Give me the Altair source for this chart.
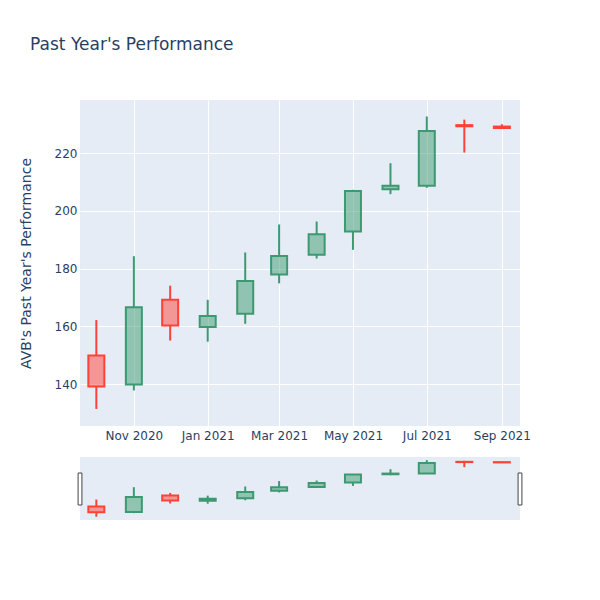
import altair as alt
import pandas as pd

months = ["2020-10-01", "2020-11-01", "2020-12-01", "2021-01-01", "2021-02-01", "2021-03-01",
          "2021-04-01", "2021-05-01", "2021-06-01", "2021-07-01", "2021-08-01", "2021-09-01"]
opens = [149.9, 139.9, 169.2, 159.8, 164.4, 178.0, 184.8, 192.9, 207.5, 208.7, 229.7, 229.2]
highs = [162.2, 184.3, 174.1, 169.2, 185.6, 195.3, 196.3, 207.3, 216.5, 232.7, 231.6, 230.0]
lows = [131.4, 137.8, 155.1, 154.7, 160.9, 174.9, 183.5, 186.5, 205.8, 208.0, 220.2, 228.7]
closes = [139.2, 166.6, 160.3, 163.6, 175.7, 184.4, 191.9, 206.9, 208.7, 227.7, 229.3, 228.7]

x_range = ["2020-09-17T12:00:00", "2021-09-16T00:00:00"]
y_range = [125.5, 238.4]
y_ticks = [140, 160, 180, 200, 220]
x_ticks = [(2020, 11), (2021, 1), (2021, 3), (2021, 5), (2021, 7), (2021, 9)]

INC = "#3D9970"
DEC = "#FF4136"
TXT = "#2a3f5f"
BG = "#E5ECF6"
FONT = "DejaVu Sans"

df = pd.DataFrame({
    "date": [m + "T00:00:00" for m in months],
    "open": opens, "high": highs, "low": lows, "close": closes,
})
df["dir"] = ["inc" if c >= o else "dec" for o, c in zip(opens, closes)]
df["btop"] = df[["open", "close"]].max(axis=1)
df["bbot"] = df[["open", "close"]].min(axis=1)

handles = pd.DataFrame({"date": x_range})

color = alt.Color("dir:N", scale=alt.Scale(domain=["inc", "dec"], range=[INC, DEC]), legend=None)
xscale = alt.Scale(domain=x_range, padding=0)
yscale = alt.Scale(domain=y_range, zero=False, nice=False, padding=0)

x_main = alt.X("date:T", scale=xscale, title=None,
               axis=alt.Axis(values=[alt.DateTime(year=y, month=m, date=1) for y, m in x_ticks],
                             format="%b %Y", labelFlush=False, labelOverlap=False,
                             grid=True, gridColor="white", gridWidth=1,
                             labelPadding=4, domain=False, ticks=False))
y_main = alt.Y("low:Q", scale=yscale, title="AVB's Past Year's Performance",
               axis=alt.Axis(values=y_ticks, grid=True, gridColor="white", gridWidth=1,
                             domain=False, ticks=False, labelPadding=3, titlePadding=21,
                             titleFontSize=14, titleFontWeight="normal", titleColor=TXT,
                             titleFont=FONT))


def candles(xenc, yenc):
    base = alt.Chart(df)
    lo = base.mark_rule(strokeWidth=2).encode(x=xenc, y=yenc, y2="bbot:Q", color=color)
    hi = base.mark_rule(strokeWidth=2).encode(x="date:T", y="btop:Q", y2="high:Q", color=color)
    body = base.mark_bar(size=16, strokeWidth=2, fillOpacity=0.5).encode(
        x="date:T", y="open:Q", y2="close:Q", color=color, stroke=color)
    return [lo, hi, body]


main = alt.layer(*candles(x_main, y_main)).properties(width=440, height=326)

x_s = alt.X("date:T", scale=xscale, axis=None)
y_s = alt.Y("low:Q", scale=yscale, axis=None)
hand = alt.Chart(handles).mark_point(
    shape="M-0.12,-1H0.12V1H-0.12Z", size=1024, filled=True, fill="white",
    stroke="#444444", strokeWidth=1, opacity=1, clip=False
).encode(x="date:T", y=alt.value(32))

slider = alt.layer(*candles(x_s, y_s), hand).properties(width=440, height=63)

chart = alt.vconcat(main, slider, spacing=16).properties(
    title=alt.TitleParams("Past Year's Performance", anchor="start", fontSize=17,
                          font=FONT, fontWeight="normal", color=TXT, offset=46, dx=11),
    padding={"left": 11, "top": 28, "right": 10, "bottom": 10},
).configure_view(fill=BG, stroke=None).configure_axis(
    labelFont=FONT, labelFontSize=12, labelColor=TXT
)

chart.save("out.html", embed_options={"renderer": "svg", "actions": False})
